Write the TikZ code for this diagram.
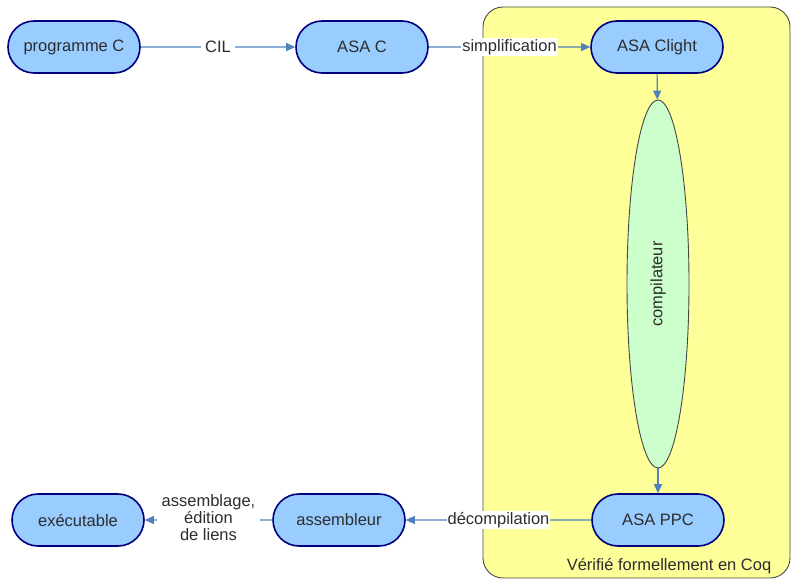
\documentclass[tikz,border=0pt]{standalone}
\usepackage{fontspec}
\setmainfont{Liberation Sans}
\usetikzlibrary{shapes.geometric,shapes.misc,arrows.meta}
\definecolor{lblu}{RGB}{153,204,255}
\definecolor{dblu}{RGB}{0,0,128}
\definecolor{lgrn}{RGB}{204,255,204}
\definecolor{lyel}{RGB}{255,255,153}
\definecolor{dgry}{RGB}{70,70,70}
\definecolor{txt}{RGB}{45,45,45}
\definecolor{arr}{RGB}{79,129,189}
\tikzstyle{flow chart}=[
    every node/.style={font={\fontsize{16.5}{17}\selectfont},text=txt},
    ast/.style={rounded rectangle, draw=dblu, fill=lblu, line width=1.6pt,
        minimum width=132pt, minimum height=52pt, inner sep=0pt},
    pass/.style={ellipse, draw=dgry, fill=lgrn, line width=0.9pt,
        minimum width=62pt, minimum height=368pt, inner sep=0pt},
    zone/.style={rectangle, draw=dgry, fill=lyel, line width=0.9pt,
        rounded corners=20pt, minimum width=307pt, minimum height=571pt},
    flow/.style={arr, line width=1.2pt, -{Triangle[length=9pt,width=8pt]}},
    flow label/.style={fill=white, inner xsep=4pt, inner ysep=1pt, align=center},
]

\begin{document}
\begin{tikzpicture}
[
    flow chart,
    x=1pt, y=-1pt
]
    \useasboundingbox (0,0) rectangle (794,583);

    % zone verifiee
    \node[zone] (coq) at (636.5,292.5) {};
    \node (coqlabel) at (669,566) {Vérifié formellement en Coq};

    \node[ast] (prog) at (74,47) {programme C};
    \node[ast] (asac) at (362,47) {ASA C};
    \node[ast] (clight) at (657,47) {ASA Clight};
    \node[pass] (comp) at (658,284) {\rotatebox{90}{compilateur}};
    \node[ast] (ppc) at (658,520) {ASA PPC};
    \node[ast] (asm) at (339,520) {assembleur};
    \node[ast] (exe) at (78,520) {exécutable};

    \draw[flow] (prog) -- node[flow label] {CIL} (asac);
    \draw[flow] (asac) -- node[flow label, inner xsep=1pt] {simplification} (clight);
    \draw[flow] (clight) -- (comp);
    \draw[flow] (comp) -- (ppc);
    \draw[flow] (ppc) -- node[flow label, inner xsep=1pt] {décompilation} (asm);
    \draw[flow] (asm) -- node[flow label, inner sep=5pt, yshift=2pt] {assemblage,\\édition\\de liens} (exe);
\end{tikzpicture}
\end{document}
